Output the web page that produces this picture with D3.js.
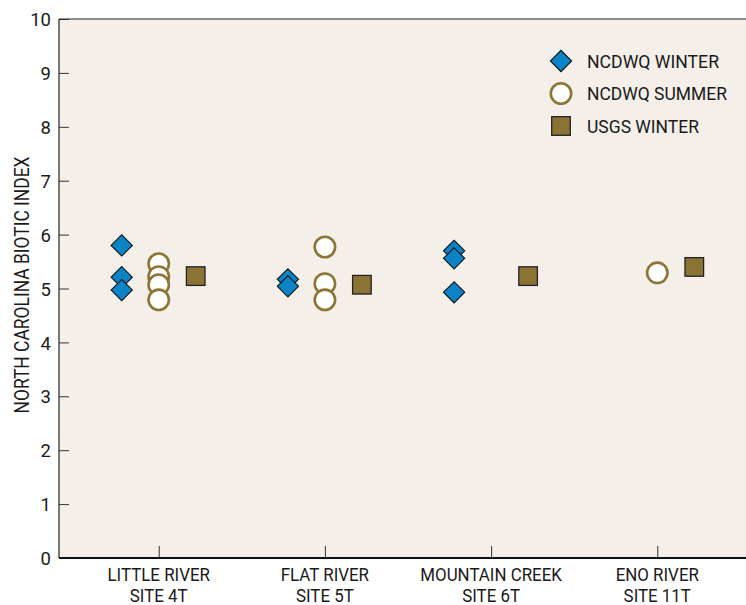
<!DOCTYPE html>
<html><head><meta charset="utf-8">
<script src="https://cdn.jsdelivr.net/npm/d3@7"></script>
<style>
body{margin:0;background:#fff;}
text{font-family:Roboto,"Liberation Sans Narrow",sans-serif;fill:#1a1a1a;}
</style></head>
<body><svg id="c" width="746" height="605"></svg>
<script>
const categories = ["LITTLE RIVER|SITE 4T","FLAT RIVER|SITE 5T","MOUNTAIN CREEK|SITE 6T","ENO RIVER|SITE 11T"];
const seriesNames = ["NCDWQ WINTER","NCDWQ SUMMER","USGS WINTER"];
const ncdwqWinter = [[0,5.80],[0,5.21],[0,4.97],[1,5.17],[1,5.04],[2,5.70],[2,5.56],[2,4.93]];
const ncdwqSummer = [[0,5.46],[0,5.22],[0,5.07],[0,4.79],[1,5.77],[1,5.09],[1,4.79],[3,5.29]];
const usgsWinter = [[0,5.23],[1,5.07],[2,5.23],[3,5.40]];
const yTicks = [0,1,2,3,4,5,6,7,8,9,10];

const svg = d3.select("#c");
const L=59, T=19, R=757, B=558;
const x = d3.scalePoint().domain(d3.range(categories.length)).range([L,R]).padding(0.6);
const y = d3.scaleLinear().domain([0,10]).range([B,T]);
const off = d3.scaleOrdinal().domain(seriesNames).range([-37,0,37]);

svg.append("rect").attr("x",L).attr("y",T).attr("width",R-L).attr("height",B-T).attr("fill","#f4efe9");
svg.append("line").attr("x1",L).attr("x2",R).attr("y1",T).attr("y2",T).attr("stroke","#222").attr("stroke-width",1.2);

// y axis
const ya = svg.append("g").attr("transform",`translate(${L},0)`).call(d3.axisRight(y).tickValues(yTicks).tickSize(10).tickFormat(d3.format("d")));
ya.select(".domain").remove();
ya.selectAll(".tick line").attr("stroke","#333");
ya.selectAll(".tick text").attr("x",-8).attr("text-anchor","end").attr("dy","0.36em").style("font-size","18.5px");
svg.append("line").attr("x1",L).attr("x2",L).attr("y1",T).attr("y2",B).attr("stroke","#222").attr("stroke-width",1.2);

// x axis
const xa = svg.append("g").attr("transform",`translate(0,${B})`).call(d3.axisTop(x).tickSize(12).tickFormat(""));
xa.select(".domain").remove();
xa.selectAll(".tick line").attr("stroke","#333");
svg.append("line").attr("x1",L).attr("x2",R).attr("y1",B).attr("y2",B).attr("stroke","#111").attr("stroke-width",1.8);
const sx=0.89;
categories.forEach((c,i)=>{
  const parts=c.split("|");
  const t=svg.append("text").attr("transform",`scale(${sx},1)`).attr("x",x(i)/sx).attr("y",B+23).attr("text-anchor","middle").style("font-size","19px");
  t.append("tspan").attr("x",x(i)/sx).text(parts[0]);
  t.append("tspan").attr("x",x(i)/sx).attr("dy",21.5).text(parts[1]);
});

svg.append("text").attr("transform",`translate(29,285) rotate(-90)`).attr("text-anchor","middle")
  .style("font-size","20px").attr("textLength",257).attr("lengthAdjust","spacingAndGlyphs").text("NORTH CAROLINA BIOTIC INDEX");

const diamond = (g,cx,cy)=>g.append("rect").attr("x",-7.5).attr("y",-7.5).attr("width",15).attr("height",15)
  .attr("transform",`translate(${cx},${cy}) rotate(45)`).attr("fill","#0a84c6").attr("stroke","#111").attr("stroke-width",1.1);
const circ = (g,cx,cy)=>g.append("circle").attr("cx",cx).attr("cy",cy).attr("r",10.2).attr("fill","#fff").attr("stroke","#8c7634").attr("stroke-width",2.6);
const sq = (g,cx,cy)=>g.append("rect").attr("x",cx-9.3).attr("y",cy-9.3).attr("width",18.6).attr("height",18.6).attr("fill","#8b7433").attr("stroke","#222").attr("stroke-width",1.3);

const g=svg.append("g");
ncdwqWinter.forEach(d=>diamond(g,x(d[0])+off("NCDWQ WINTER"),y(d[1])));
ncdwqSummer.forEach(d=>circ(g,x(d[0])+off("NCDWQ SUMMER"),y(d[1])));
usgsWinter.forEach(d=>sq(g,x(d[0])+off("USGS WINTER"),y(d[1])));

// legend
const lg=svg.append("g");
const drawers=[diamond,circ,sq];
const legLen=[132,140,112];
seriesNames.forEach((s,i)=>{
  const cy=61+i*32.5;
  drawers[i](lg,561,cy);
  lg.append("text").attr("x",587).attr("y",cy).attr("dy","0.36em").style("font-size","19px")
    .attr("textLength",legLen[i]).attr("lengthAdjust","spacingAndGlyphs").text(s);
});
</script></body></html>
